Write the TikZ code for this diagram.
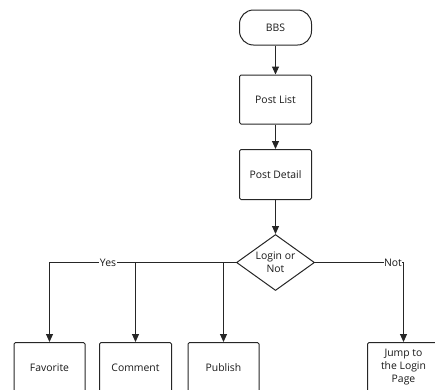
\documentclass[tikz,border=0pt]{standalone}
\usepackage{fontspec}
\setmainfont{Open Sans}
\usetikzlibrary{shapes.geometric,arrows.meta}
\definecolor{linegray}{HTML}{262626}
\begin{document}
\begin{tikzpicture}[x=1pt,y=-1pt,
  font=\fontsize{10.4pt}{13pt}\selectfont,
  every node/.style={text=black!90},
  box/.style={draw=linegray,line width=1pt,rounded corners=1.5pt,
    minimum width=71pt,minimum height=50pt,inner sep=1pt,align=center},
  pill/.style={draw=linegray,line width=1pt,rounded corners=14pt,
    minimum width=72pt,minimum height=35pt,inner sep=1pt},
  decision/.style={draw=linegray,line width=1pt,diamond,aspect=1.39,
    minimum width=78pt,minimum height=56pt,inner sep=0pt,align=center},
  flow/.style={draw=linegray,line width=1pt,
    -{Triangle[length=8pt,width=7pt]}},
  tag/.style={fill=white,inner sep=0.5pt}]
\useasboundingbox (0,0) rectangle (435,389);

% main chain
\node[pill] (bbs) at (275.5,27.5) {BBS};
\node[box,minimum width=72pt,minimum height=49pt] (list) at (275.5,99.5) {Post List};
\node[box,minimum width=72pt,minimum height=50pt] (detail) at (275.5,174.5) {Post Detail};
\node[decision] (login) at (275.5,262.5) {Login or\\Not};

% outcome boxes
\node[box] (fav) at (49.5,367.5) {Favorite};
\node[box,minimum width=72pt] (com) at (135.5,367.5) {Comment};
\node[box] (pub) at (223.5,367.5) {Publish};
\node[box,minimum width=72pt] (jump) at (403.5,367.5) {Jump to\\the Login\\Page};

\draw[flow] (bbs) -- (list);
\draw[flow] (list) -- (detail);
\draw[flow] (detail) -- (login);

% yes branches
\draw[flow] (login.west) -| (fav.north);
\draw[flow] (login.west) -| (com.north);
\draw[flow] (login.west) -| (pub.north);
\node[tag] (yes) at (108,262.5) {Yes};

% no branch
\draw[flow] (login.east) -| (jump.north);
\node[tag] (no) at (393,262.5) {Not};
\end{tikzpicture}
\end{document}
